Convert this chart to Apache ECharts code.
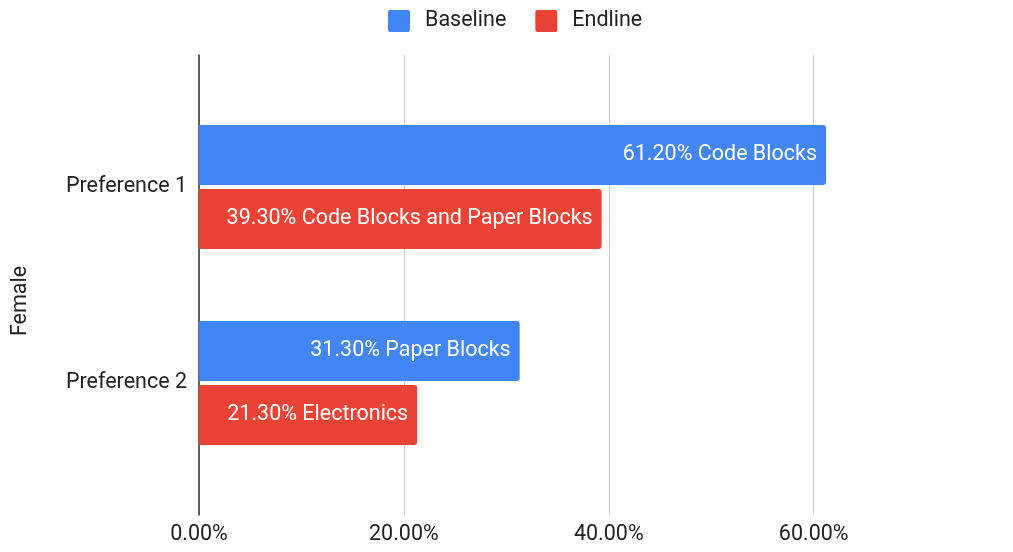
<!DOCTYPE html>
<html>
<head>
<meta charset="utf-8">
<script src="https://cdn.jsdelivr.net/npm/echarts@6/dist/echarts.min.js"></script>
<style>
  html, body { margin: 0; padding: 0; background: #fff; }
  #chart { width: 1013px; height: 552px; }
</style>
</head>
<body>
<div id="chart"></div>
<script>
// Survey data: preferred material, female respondents
const categories = ['Preference 1', 'Preference 2'];
const baselineValues = [61.2, 31.3];
const endlineValues = [39.3, 21.3];
const baselineNames = ['Code Blocks', 'Paper Blocks'];
const endlineNames = ['Code Blocks and Paper Blocks', 'Electronics'];
const xTicks = [0, 20, 40, 60];
const axisTitle = 'Female';

const FONT = 'Roboto, "Noto Sans", sans-serif';
const FS = 21.5;
const BLUE = '#4285F4';
const RED = '#EA4335';
// square legend swatch with slightly rounded corners
const SWATCH = 'path://M2,0 L20,0 Q22,0 22,2 L22,20 Q22,22 20,22 L2,22 Q0,22 0,20 L0,2 Q0,0 2,0 Z';

const chart = echarts.init(document.getElementById('chart'), null, { renderer: 'canvas' });

function barLabel(names) {
  return {
    show: true,
    position: 'insideRight',
    distance: 9,
    color: '#fff',
    fontFamily: FONT,
    fontSize: FS,
    formatter: p => p.value.toFixed(2) + '% ' + names[p.dataIndex]
  };
}

const X_MAX = 80;
const PLOT_LEFT = 199;
const PLOT_WIDTH = 819.6;

chart.setOption({
  animation: false,
  backgroundColor: '#fff',
  textStyle: { fontFamily: FONT },
  legend: {
    left: 388,
    top: 10,
    padding: 0,
    itemWidth: 22,
    itemHeight: 22,
    itemGap: 29,
    icon: SWATCH,
    textStyle: { fontSize: FS, color: '#222', fontFamily: FONT, padding: [0, 0, 0, 10] },
    data: ['Baseline', 'Endline']
  },
  graphic: [{
    type: 'text',
    x: 21,
    y: 301,
    rotation: Math.PI / 2,
    style: {
      text: axisTitle,
      fontSize: FS,
      fontFamily: FONT,
      fill: '#222',
      align: 'center',
      verticalAlign: 'middle'
    }
  }],
  grid: [
    // bars
    { left: PLOT_LEFT, top: 89, width: PLOT_WIDTH, height: 392, outerBoundsMode: 'none' },
    // gridlines, ticks and baseline axis
    { left: PLOT_LEFT, top: 55, width: PLOT_WIDTH, height: 460, outerBoundsMode: 'none' }
  ],
  xAxis: [
    {
      gridIndex: 0, type: 'value', min: 0, max: X_MAX, interval: 20,
      axisLine: { show: false }, axisTick: { show: false },
      axisLabel: { show: false }, splitLine: { show: false }
    },
    {
      gridIndex: 1, type: 'value', min: 0, max: X_MAX, interval: 20,
      axisLine: { show: false }, axisTick: { show: false },
      axisLabel: {
        show: true, margin: 9, fontSize: FS, color: '#222', fontFamily: FONT,
        showMaxLabel: false,
        formatter: v => (xTicks.indexOf(v) >= 0 ? v.toFixed(2) + '%' : '')
      },
      splitLine: { show: true, lineStyle: { color: '#cccccc', width: 1 } }
    }
  ],
  yAxis: [
    {
      gridIndex: 0, type: 'category', data: categories, inverse: true,
      axisLine: { show: false }, axisTick: { show: false },
      axisLabel: { margin: 12, fontSize: FS, color: '#222', fontFamily: FONT }
    },
    {
      gridIndex: 1, type: 'category', data: categories, inverse: true,
      axisLine: { show: true, lineStyle: { color: '#333', width: 1.5 } },
      axisTick: { show: false }, axisLabel: { show: false },
      z: 1
    }
  ],
  series: [
    {
      name: 'Baseline', type: 'bar', xAxisIndex: 0, yAxisIndex: 0,
      data: baselineValues, barWidth: 60, barGap: '6.67%',
      itemStyle: { color: BLUE, borderRadius: [0, 3, 3, 0] },
      label: barLabel(baselineNames), z: 3
    },
    {
      name: 'Endline', type: 'bar', xAxisIndex: 0, yAxisIndex: 0,
      data: endlineValues, barWidth: 60, barGap: '6.67%',
      itemStyle: { color: RED, borderRadius: [0, 3, 3, 0] },
      label: barLabel(endlineNames), z: 3
    }
  ]
});
</script>
</body>
</html>
